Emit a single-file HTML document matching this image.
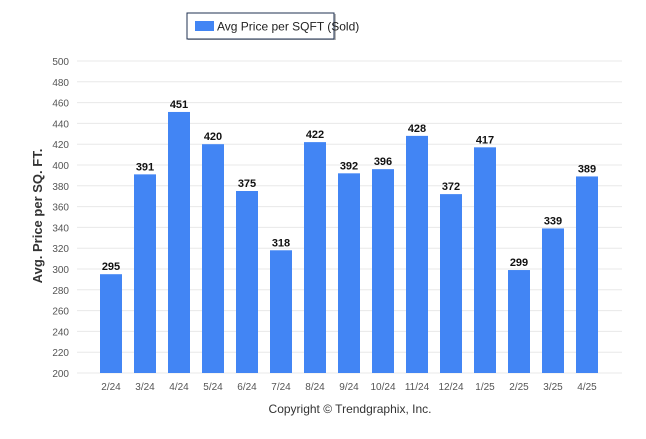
<!DOCTYPE html>
<html><head><meta charset="utf-8"><style>
body{margin:0;background:#fff;font-family:"Liberation Sans",sans-serif}
</style></head><body>
<svg width="646" height="434" xmlns="http://www.w3.org/2000/svg">
<g>
<rect x="188" y="14" width="148" height="26" fill="#777" opacity="0.5"/>
<rect x="187" y="13" width="147" height="26" fill="#fff" stroke="#1f3050" stroke-width="1"/>
<rect x="195" y="21" width="19" height="10" fill="#4285f4"/>
<text x="217" y="30.5" font-size="12" fill="#222">Avg Price per SQFT (Sold)</text>
</g>
<g id="grid"></g>
<g id="bars"></g>
<text transform="translate(42,216) rotate(-90)" text-anchor="middle" font-size="13" font-weight="bold" fill="#333">Avg. Price per SQ. FT.</text>
<text x="350" y="413" text-anchor="middle" font-size="12" fill="#333">Copyright © Trendgraphix, Inc.</text>
</svg>
<script>
const categories=["2/24","3/24","4/24","5/24","6/24","7/24","8/24","9/24","10/24","11/24","12/24","1/25","2/25","3/25","4/25"];
const values=[295,391,451,420,375,318,422,392,396,428,372,417,299,339,389];
const yTicks=[200,220,240,260,280,300,320,340,360,380,400,420,440,460,480,500];
const NS="http://www.w3.org/2000/svg";
const y=v=>373-(v-200)*312/300;
const x=i=>111+i*34;
function mk(t,a,p){const e=document.createElementNS(NS,t);for(const k in a)e.setAttribute(k,a[k]);p.appendChild(e);return e;}
const g=document.getElementById('grid'),b=document.getElementById('bars');
yTicks.forEach(v=>{
const l=mk('line',{x1:77,x2:622,y1:y(v),y2:y(v),stroke:'#e8e8e8'},g);


const t=mk('text',{x:69,y:y(v)+4,'text-anchor':'end','font-size':10,fill:'#555'},g);
t.textContent=v;


});
categories.forEach((c,i)=>{
const r=mk('rect',{x:x(i)-11,y:y(values[i]),width:22,height:373-y(values[i]),fill:'#4285f4'},b);


const v=mk('text',{x:x(i),y:y(values[i])-4,'text-anchor':'middle','font-size':11,'font-weight':'bold',fill:'#111'},b);
v.textContent=values[i];


const t=mk('text',{x:x(i),y:390,'text-anchor':'middle','font-size':10,fill:'#555'},b);
t.textContent=c;


});
</script>
</body></html>
